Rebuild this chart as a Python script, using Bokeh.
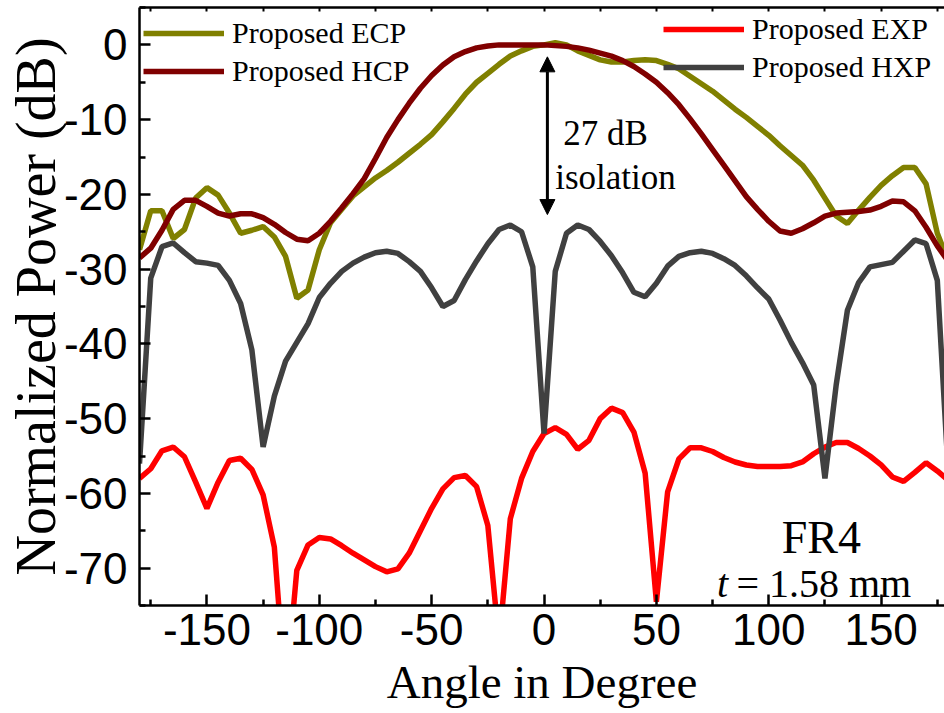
from bokeh.plotting import figure
from bokeh.models import (Range1d, FixedTicker, LinearAxis, Legend, LegendItem,
                          Arrow, NormalHead, Label)
from bokeh.embed import file_html
from bokeh.resources import INLINE

# Radiation pattern cuts, sampled every 5 degrees
angles = list(range(-180, 185, 5))

ecp = [-27.4, -22.2, -22.2, -25.9, -24.7, -20.5, -19.1, -20.1, -22.5, -25.2,
       -24.8, -24.3, -25.7, -28.3, -33.9, -32.8, -27.4, -23.8, -22.0, -20.2,
       -19.0, -17.8, -16.8, -15.7, -14.5, -13.3, -12.0, -10.3, -8.5, -6.6,
       -5.0, -3.8, -2.6, -1.5, -0.8, -0.2, 0.0, 0.3, 0.0, -0.8,
       -1.4, -2.0, -2.3, -2.3, -2.1, -2.0, -2.1, -2.6, -3.2, -4.2,
       -5.2, -6.2, -7.4, -8.6, -9.7, -10.9, -12.1, -13.5, -14.8, -16.1,
       -18.1, -20.5, -22.9, -23.9, -22.1, -20.4, -18.8, -17.5, -16.4, -16.4,
       -18.6, -25.2, -29.0]

hcp = [-28.5, -27.2, -24.8, -22.0, -20.8, -20.8, -21.6, -22.5, -22.9, -22.6,
       -22.6, -23.1, -24.0, -25.1, -26.0, -26.2, -25.2, -23.6, -21.8, -19.9,
       -17.9, -15.2, -12.4, -10.0, -7.8, -5.8, -4.1, -2.7, -1.6, -0.9,
       -0.4, -0.15, 0.0, 0.0, 0.0, 0.0, 0.0, -0.1, -0.2, -0.4,
       -0.7, -1.1, -1.5, -2.1, -2.9, -3.9, -5.0, -6.4, -8.0, -9.9,
       -11.9, -14.0, -16.1, -18.2, -20.3, -22.0, -23.6, -24.9, -25.2, -24.6,
       -23.8, -22.9, -22.5, -22.4, -22.3, -22.1, -21.6, -20.9, -21.0, -22.2,
       -24.4, -26.9, -29.0]

exp_ = [-58.0, -56.7, -54.3, -53.8, -55.1, -58.5, -62.0, -58.5, -55.6, -55.3,
        -56.8, -60.2, -67.2, -87.0, -70.3, -66.9, -65.9, -66.1, -67.0, -68.0,
        -68.9, -69.8, -70.5, -70.1, -68.0, -65.0, -62.0, -59.4, -57.9, -57.6,
        -59.1, -64.3, -80.0, -63.4, -58.0, -54.4, -52.0, -51.2, -52.1, -54.1,
        -52.9, -50.0, -48.6, -49.2, -51.8, -57.3, -74.5, -59.8, -55.4, -53.9,
        -53.9, -54.4, -55.2, -55.8, -56.2, -56.4, -56.4, -56.4, -56.3, -55.8,
        -54.7, -53.8, -53.2, -53.2, -54.0, -55.0, -56.2, -57.8, -58.4, -57.2,
        -55.9, -57.0, -58.3]

hxp = [-56.0, -31.2, -27.0, -26.5, -27.8, -29.0, -29.2, -29.5, -31.5, -34.6,
       -40.8, -53.8, -47.0, -42.3, -39.8, -37.3, -33.8, -31.9, -30.3, -29.2,
       -28.4, -27.8, -27.6, -27.9, -29.0, -30.3, -32.5, -35.0, -34.2, -31.4,
       -28.9, -26.6, -24.7, -24.1, -25.0, -29.7, -52.0, -30.3, -25.2, -24.1,
       -24.7, -26.3, -28.2, -30.5, -33.1, -33.7, -31.9, -29.6, -28.3, -27.8,
       -27.6, -27.9, -28.6, -29.5, -30.9, -32.5, -34.0, -36.8, -39.8, -42.5,
       -45.5, -58.0, -45.5, -35.5, -31.8, -29.7, -29.4, -29.1, -27.6, -26.1,
       -26.6, -31.5, -58.0]

series_names = ["Proposed ECP", "Proposed HCP", "Proposed EXP", "Proposed HXP"]
series_colors = ["#808000", "#800000", "#FF0000", "#404040"]

x_ticks = [-150, -100, -50, 0, 50, 100, 150]
x_minor = [-175, -125, -75, -25, 25, 75, 125, 175]
y_ticks = [0, -10, -20, -30, -40, -50, -60, -70]
y_minor = [5, -5, -15, -25, -35, -45, -55, -65, -75]
top_ticks = [-175, -150, -125, -100, -75, -50, -25, 0, 25, 50, 75, 100, 125, 150, 175]

SERIF = "'Liberation Serif', 'Times New Roman', Times, serif"
SANS = "'Liberation Sans', Arial, Helvetica, sans-serif"

p = figure(width=944, height=713, output_backend="svg", toolbar_location=None,
           x_range=Range1d(-180, 178.2), y_range=Range1d(-75, 5),
           min_border_left=139, min_border_right=0, min_border_top=7,
           min_border_bottom=108)
p.outline_line_color = None
p.grid.visible = False
p.background_fill_color = "white"
p.border_fill_color = "white"

# curves (cross-pol first so the co-pol traces sit above)
r_exp = p.line(angles, exp_, line_color=series_colors[2], line_width=5.5)
r_hxp = p.line(angles, hxp, line_color=series_colors[3], line_width=5.5)
r_ecp = p.line(angles, ecp, line_color=series_colors[0], line_width=5.5)
r_hcp = p.line(angles, hcp, line_color=series_colors[1], line_width=5.5)

# axes
xa = p.xaxis[0]
xa.ticker = FixedTicker(ticks=x_ticks, minor_ticks=x_minor)
xa.major_label_overrides = {t: str(t) for t in x_ticks}
ya = p.yaxis[0]
ya.ticker = FixedTicker(ticks=y_ticks, minor_ticks=y_minor)
ya.major_label_overrides = {t: str(t) for t in y_ticks}

for ax in (xa, ya):
    ax.axis_line_width = 2.5
    ax.axis_line_color = "black"
    ax.major_tick_in = 11
    ax.major_tick_out = 0
    ax.minor_tick_in = 6
    ax.minor_tick_out = 0
    ax.major_tick_line_width = 2.5
    ax.minor_tick_line_width = 2.5
    ax.major_label_text_font = SANS
    ax.major_label_text_font_size = "44px"
    ax.major_label_text_color = "black"
    ax.major_label_text_line_height = 1.0
    ax.axis_label_text_font = SERIF
    ax.axis_label_text_font_style = "normal"
    ax.axis_label_text_color = "black"
    ax.axis_label_text_line_height = 1.0

xa.axis_label = "Angle in Degree"
xa.axis_label_text_font_size = "47px"
xa.major_label_standoff = 8
xa.axis_label_standoff = 8

ya.axis_label = "Normalized Power (dB)"
ya.axis_label_text_font_size = "56px"
ya.major_label_standoff = 12
ya.axis_label_standoff = -6

top = LinearAxis(ticker=FixedTicker(ticks=top_ticks), major_label_text_font_size="0px",
                 major_tick_in=4, major_tick_out=0, minor_tick_line_color=None,
                 axis_line_width=2.5, major_tick_line_width=2, major_label_standoff=0)
p.add_layout(top, "above")

# legends
def make_legend(items, loc):
    return Legend(items=items, location=loc, orientation="vertical",
                  border_line_color=None, background_fill_alpha=0,
                  padding=0, margin=0, spacing=4, glyph_width=81, glyph_height=30,
                  label_height=30, label_standoff=8, label_text_font=SERIF,
                  label_text_font_size="30px", label_text_color="black")

leg_left = make_legend([LegendItem(label=series_names[0], renderers=[r_ecp]),
                        LegendItem(label=series_names[1], renderers=[r_hcp])], (4, 517))
leg_right = make_legend([LegendItem(label=series_names[2], renderers=[r_exp]),
                         LegendItem(label=series_names[3], renderers=[r_hxp])], (524, 521))
p.add_layout(leg_left)
p.add_layout(leg_right)

# isolation marker
p.add_layout(Arrow(start=NormalHead(size=15, fill_color="black", line_color="black"),
                   end=NormalHead(size=15, fill_color="black", line_color="black"),
                   x_start=1.5, y_start=-1.6, x_end=1.5, y_end=-22.7,
                   line_width=3, line_color="black"))

def add_text(x, y, txt, size, align="left", style="normal"):
    p.add_layout(Label(x=x, y=y, text=txt, text_font=SERIF, text_font_size=size,
                       text_align=align, text_baseline="alphabetic",
                       text_font_style=style, text_color="black"))

add_text(8.6, -11.8, "27 dB", "35px")
add_text(5.0, -17.8, "isolation", "35px")
add_text(123.4, -65.9, "FR4", "46px", align="center")
add_text(77.0, -72.0, "t", "40px", style="italic")
add_text(85.6, -72.0, "= 1.58 mm", "40px")

open("out.html", "w").write(file_html(p, INLINE))
